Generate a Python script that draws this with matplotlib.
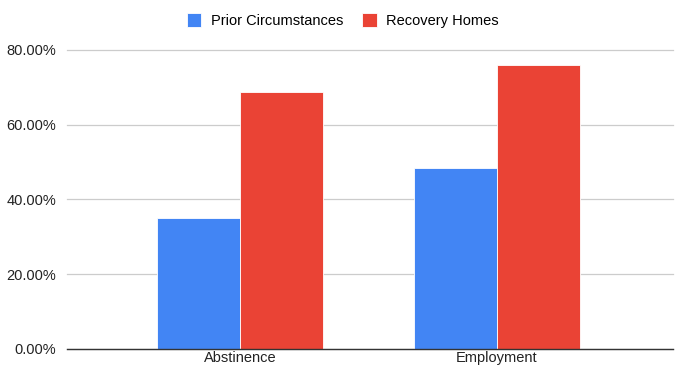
import matplotlib.pyplot as plt
import numpy as np

plt.rcParams["font.family"] = ["Liberation Sans", "DejaVu Sans"]

categories = ["Abstinence", "Employment"]
series_names = ["Prior Circumstances", "Recovery Homes"]
prior = [35.1, 48.4]
recovery = [68.7, 76.0]
yticks = [0, 20, 40, 60, 80]

fig = plt.figure(figsize=(6.79, 3.69), dpi=100)
ax = fig.add_axes([0.0987, 0.055, 0.8925, 0.8095])

x = np.arange(len(categories))
w = 0.323
ax.bar(x - w / 2, prior, w, color="#4285F4", label=series_names[0], zorder=3,
       edgecolor="white", linewidth=0.6)
ax.bar(x + w / 2, recovery, w, color="#EA4335", label=series_names[1], zorder=3,
       edgecolor="white", linewidth=0.6)

ax.set_xlim(-0.673, 1.685)
ax.set_ylim(0, 80)
ax.set_yticks(yticks)
ax.set_yticklabels(["{:.2f}%".format(v) for v in yticks], fontsize=10.5, color="#222222")
ax.set_xticks(x)
ax.set_xticklabels(categories, fontsize=10.5, color="#222222")
ax.tick_params(length=0, pad=2)
ax.tick_params(axis="y", pad=8)

ax.grid(axis="y", color="#cccccc", linewidth=0.9, zorder=0, clip_on=False)
for s in ["top", "right", "left"]:
    ax.spines[s].set_visible(False)
ax.spines["bottom"].set_color("#333333")
ax.spines["bottom"].set_linewidth(1.0)
ax.spines["bottom"].set_zorder(4)

fig.legend(loc="center", bbox_to_anchor=(0.505, 0.945), ncol=2, frameon=False,
           fontsize=10.5, handlelength=1.0, handleheight=1.15, columnspacing=1.3,
           handletextpad=0.65)

fig.savefig("out.png", dpi=100)
